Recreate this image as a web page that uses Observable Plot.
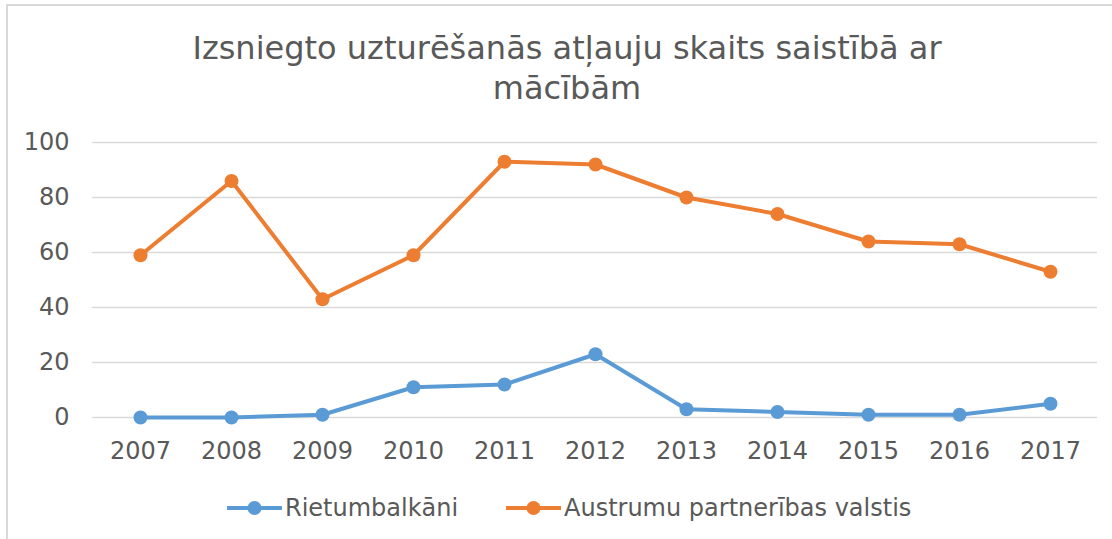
<!DOCTYPE html>
<html>
<head>
<meta charset="utf-8">
<script src="https://cdn.jsdelivr.net/npm/d3@7"></script>
<script src="https://cdn.jsdelivr.net/npm/@observablehq/plot@0.6"></script>
<style>
  html, body { margin: 0; padding: 0; background: #fff; }
  body { width: 1112px; height: 539px; overflow: hidden; position: relative; font-family: "DejaVu Sans", sans-serif; color: #595959; }
  #frame { position: absolute; left: 6px; top: 4px; width: 1200px; height: 700px; border-left: 2px solid #d9d9d9; border-top: 2px solid #d9d9d9; pointer-events: none; }
  #title { height: 120px; box-sizing: border-box; padding-top: 28px; text-align: center; font-size: 32px; line-height: 40px; padding-left: 22px; }
  #chart { height: 355px; }
  #legend { height: 64px; position: relative; font-size: 24px; }
  .item { position: absolute; top: 19px; display: flex; align-items: center; height: 28px; }
  .item svg { margin-right: 3px; }
</style>
</head>
<body>
<div id="frame"></div>
<div id="title">Izsniegto uzturēšanās atļauju skaits saistībā ar<br>mācībām</div>
<div id="chart"></div>
<div id="legend"></div>
<script>
const years = ["2007","2008","2009","2010","2011","2012","2013","2014","2015","2016","2017"];
const seriesNames = ["Rietumbalkāni", "Austrumu partnerības valstis"];
const rietumbalkani = [0, 0, 1, 11, 12, 23, 3, 2, 1, 1, 5];
const austrumu = [59, 86, 43, 59, 93, 92, 80, 74, 64, 63, 53];
const colors = ["#5B9BD5", "#ED7D31"];
const yTicks = [0, 20, 40, 60, 80, 100];

const data = [];
years.forEach((y, i) => data.push({year: y, value: rietumbalkani[i], series: seriesNames[0]}));
years.forEach((y, i) => data.push({year: y, value: austrumu[i], series: seriesNames[1]}));

const chart = Plot.plot({
  width: 1112,
  height: 355,
  marginTop: 22,
  marginBottom: 58,
  marginLeft: 92,
  marginRight: 15,
  style: {fontFamily: "DejaVu Sans", fontSize: "24px", color: "#595959", background: "transparent"},
  x: {type: "point", domain: years, padding: 0.5, label: null},
  y: {domain: [0, 100], label: null},
  color: {domain: seriesNames, range: colors},
  marks: [
    Plot.gridY(yTicks, {stroke: "#d9d9d9", strokeOpacity: 1, strokeWidth: 1.5}),
    Plot.axisY(yTicks, {tickSize: 0, tickPadding: 23, label: null, fill: "#595959"}),
    Plot.axisX({tickSize: 0, tickPadding: 24, label: null, fill: "#595959"}),
    Plot.line(data, {x: "year", y: "value", z: "series", stroke: "series", strokeWidth: 4}),
    Plot.dot(data, {x: "year", y: "value", fill: "series", r: 7})
  ]
});
document.getElementById("chart").appendChild(chart);

const legend = document.getElementById("legend");
const lefts = [227, 506];
seriesNames.forEach((name, i) => {
  const div = document.createElement("div");
  div.className = "item";
  div.style.left = lefts[i] + "px";
  div.innerHTML = `<svg width="55" height="20"><line x1="0" x2="55" y1="10" y2="10" stroke="${colors[i]}" stroke-width="4"/><circle cx="27.5" cy="10" r="7" fill="${colors[i]}"/></svg><span>${name}</span>`;
  legend.appendChild(div);
});
</script>
</body>
</html>
